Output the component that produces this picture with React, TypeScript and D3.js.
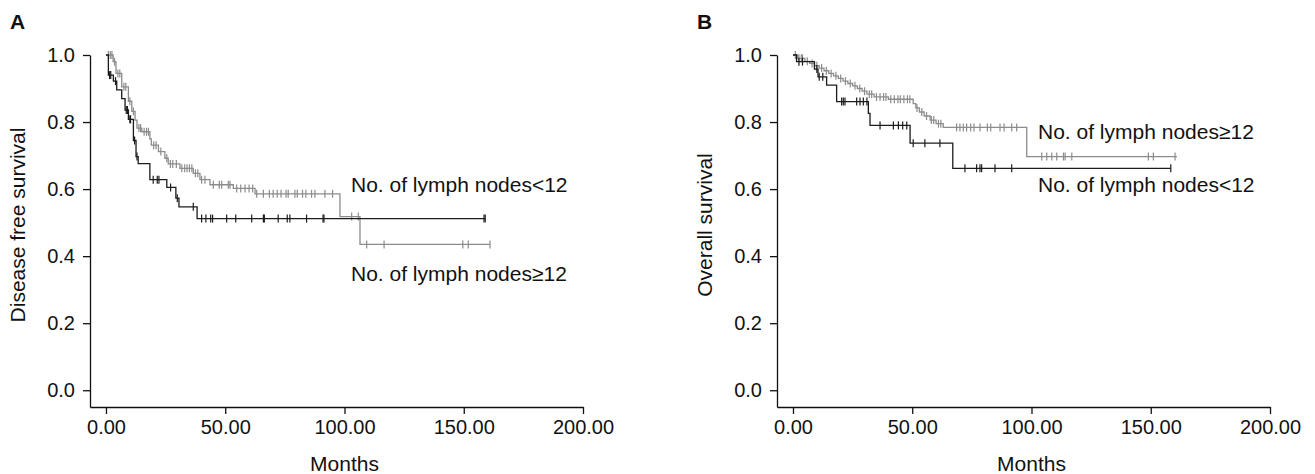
import { useEffect, useRef } from 'react';
import * as d3 from 'd3';

const xTicks = [0, 50, 100, 150, 200];
const yTicks = [0, 0.2, 0.4, 0.6, 0.8, 1.0];

// A: disease free survival, gray curve (steps: month, survival after the drop)
const dfsGraySteps: [number, number][] = [
  [3, 0.98], [4.2, 0.945], [6.6, 0.905], [9.4, 0.862], [10.8, 0.832], [12.2, 0.806],
  [13, 0.782], [15, 0.771], [18.4, 0.75], [19, 0.731], [22, 0.712], [24.7, 0.692],
  [26.1, 0.675], [31, 0.662], [36.6, 0.647], [39.4, 0.628], [43.6, 0.613], [53.4, 0.602],
  [62.5, 0.586], [98.1, 0.518], [106.5, 0.435],
];
const dfsGrayEnd = 161;
const dfsGrayCensor = [
  1, 1.8, 2.5, 3.6, 5, 5.8, 7.5, 8.3, 10, 11.5, 13.8, 14.5, 16, 17, 17.8, 20, 21, 23,
  25.5, 27, 28, 29.5, 31.8, 33, 34, 35, 36, 37.5, 38.5, 40.1, 41.5, 45, 47.5, 48.5, 51.3,
  52, 54.8, 56.5, 58.3, 60, 61.5, 63.2, 66, 68.5, 70.1, 71.8, 73.4, 75.5, 76.4, 79.2,
  80.2, 82.4, 83.8, 86.2, 87.6, 91.8, 95, 103, 105.8, 109.3, 116.6, 149.6, 151.9, 161,
];

// A: black curve
const dfsBlackSteps: [number, number][] = [
  [1, 0.94], [3.1, 0.922], [4.5, 0.896], [6.6, 0.87], [8, 0.836], [9.4, 0.808],
  [11.5, 0.745], [12.6, 0.697], [13.5, 0.676], [18.4, 0.628], [25.5, 0.605],
  [29.3, 0.573], [30.6, 0.547], [38.2, 0.512],
];
const dfsBlackEnd = 159;
const dfsBlackCensor = [
  1.5, 2, 4, 8.5, 9, 10, 10.3, 12, 13, 19.8, 21.5, 22.2, 27.1, 29.9, 36.6, 40.1, 41.9,
  43.9, 44.7, 50.6, 54.4, 61.1, 66, 66.4, 72.2, 76, 77.1, 84.1, 91, 91.4, 158.5, 159,
];

// B: overall survival, gray curve
const osGraySteps: [number, number][] = [
  [2, 0.99], [5, 0.981], [7, 0.975], [9, 0.968], [11, 0.961], [13, 0.953], [15, 0.945],
  [17, 0.938], [19, 0.93], [21, 0.922], [23, 0.915], [25, 0.908], [27, 0.9], [29, 0.892],
  [31, 0.883], [34, 0.875], [40, 0.868], [50.4, 0.855], [51.5, 0.842], [53, 0.83],
  [55, 0.818], [57.5, 0.806], [60, 0.795], [63, 0.784], [98, 0.697],
];
const osGrayEnd = 161;
const osGrayCensor = [
  1, 2.5, 3.5, 4, 6, 8, 10, 12, 14, 16, 18, 20, 22, 24, 26, 28, 30, 32, 33, 35, 36.5, 38,
  39, 41, 42.5, 44, 45, 46.5, 48, 49, 52, 54, 56, 58, 59, 61, 62, 68.6, 70, 71.4, 72.8,
  74.5, 75.9, 78.4, 81.5, 82.9, 86.8, 88.5, 91.7, 93.8, 104.3, 106.4, 108.5, 110.6, 113.4,
  114.1, 116.9, 149, 151.1, 160.2,
];

// B: black curve
const osBlackSteps: [number, number][] = [
  [1.5, 0.98], [9, 0.958], [10.5, 0.935], [14.1, 0.91], [18.3, 0.861], [31.6, 0.826],
  [32.3, 0.79], [49.1, 0.737], [67, 0.662],
];
const osBlackEnd = 158.4;
const osBlackCensor = [
  2.5, 4, 10, 11, 12.5, 20.4, 21.1, 21.8, 26.7, 28.1, 29.5, 31, 36.5, 42.1, 44.2, 46,
  47.7, 50.4, 55.3, 61.6, 72.1, 77, 78.4, 79.1, 84.7, 91.7, 158.4,
];

const GRAY = '#8c8c8c';
const BLACK = '#1c1c1c';
const FONT = '"Liberation Sans", Arial, sans-serif';

type Curve = { steps: [number, number][]; end: number; censor: number[]; color: string };
type Panel = {
  letter: string;
  left: number;
  yTitle: string;
  curves: Curve[];
  labels: { text: string; x: number; y: number }[];
};

const panels: Panel[] = [
  {
    letter: 'A',
    left: 90,
    yTitle: 'Disease free survival',
    curves: [
      { steps: dfsGraySteps, end: dfsGrayEnd, censor: dfsGrayCensor, color: GRAY },
      { steps: dfsBlackSteps, end: dfsBlackEnd, censor: dfsBlackCensor, color: BLACK },
    ],
    labels: [
      { text: 'No. of lymph nodes<12', x: 351, y: 192 },
      { text: 'No. of lymph nodes≥12', x: 351, y: 281 },
    ],
  },
  {
    letter: 'B',
    left: 777,
    yTitle: 'Overall survival',
    curves: [
      { steps: osGraySteps, end: osGrayEnd, censor: osGrayCensor, color: GRAY },
      { steps: osBlackSteps, end: osBlackEnd, censor: osBlackCensor, color: BLACK },
    ],
    labels: [
      { text: 'No. of lymph nodes≥12', x: 1038, y: 139 },
      { text: 'No. of lymph nodes<12', x: 1038, y: 192 },
    ],
  },
];

function survivalAt(steps: [number, number][], t: number) {
  let s = 1;
  for (const [time, v] of steps) if (time <= t) s = v;
  return s;
}

export default function App() {
  const ref = useRef<SVGSVGElement>(null);

  useEffect(() => {
    const svg = d3.select(ref.current);
    svg.selectAll('*').remove();

    panels.forEach(p => {
      const g = svg.append('g');
      const x = d3.scaleLinear().domain([-6.7, 200]).range([p.left, p.left + 493]);
      const y = d3.scaleLinear().domain([-0.05, 1.0]).range([407, 55]);

      const yAxis = g.append('g')
        .attr('transform', `translate(${p.left},0)`)
        .call(d3.axisLeft(y).tickValues(yTicks).tickFormat(d3.format('.1f')).tickSize(7).tickSizeOuter(0).tickPadding(8));
      const xAxis = g.append('g')
        .attr('transform', `translate(0,407)`)
        .call(d3.axisBottom(x).tickValues(xTicks).tickFormat(d3.format('.2f')).tickSize(7).tickSizeOuter(0).tickPadding(6));
      [yAxis, xAxis].forEach(a => {
        a.selectAll('path,line').attr('stroke', '#111').attr('stroke-width', 1.3);
        a.selectAll('text').attr('font-family', FONT).attr('font-size', 20).attr('fill', '#111');
      });

      const line = d3.line<[number, number]>()
        .x(d => x(d[0]))
        .y(d => y(d[1]))
        .curve(d3.curveStepAfter);

      p.curves.forEach(c => {
        const last = c.steps[c.steps.length - 1][1];
        const pts: [number, number][] = [[0, 1], ...c.steps, [c.end, last]];
        g.append('path')
          .attr('d', line(pts))
          .attr('fill', 'none')
          .attr('stroke', c.color)
          .attr('stroke-width', 1.3);
        g.append('g').selectAll('line')
          .data(c.censor)
          .join('line')
          .attr('x1', d => x(d))
          .attr('x2', d => x(d))
          .attr('y1', d => y(survivalAt(c.steps, d)) - 4)
          .attr('y2', d => y(survivalAt(c.steps, d)) + 4)
          .attr('stroke', c.color)
          .attr('stroke-width', 1.2);
      });

      p.labels.forEach(l => {
        g.append('text')
          .attr('x', l.x)
          .attr('y', l.y)
          .attr('font-family', FONT)
          .attr('font-size', 21)
          .attr('fill', '#111')
          .text(l.text);
      });

      g.append('text')
        .attr('x', (x(0) + x(200)) / 2)
        .attr('y', 471)
        .attr('text-anchor', 'middle')
        .attr('font-family', FONT)
        .attr('font-size', 21)
        .attr('fill', '#111')
        .text('Months');

      g.append('text')
        .attr('transform', `translate(${p.left - 65},225) rotate(-90)`)
        .attr('text-anchor', 'middle')
        .attr('font-family', FONT)
        .attr('font-size', 21)
        .attr('fill', '#111')
        .text(p.yTitle);

      g.append('text')
        .attr('x', p.left - 80)
        .attr('y', 29)
        .attr('font-family', FONT)
        .attr('font-size', 21)
        .attr('font-weight', 'bold')
        .attr('fill', '#111')
        .text(p.letter);
    });
  }, []);

  return (
    <svg ref={ref} width={1315} height={474}
      style={{ position: 'absolute', left: 0, top: 0, background: '#fff' }} />
  );
}
